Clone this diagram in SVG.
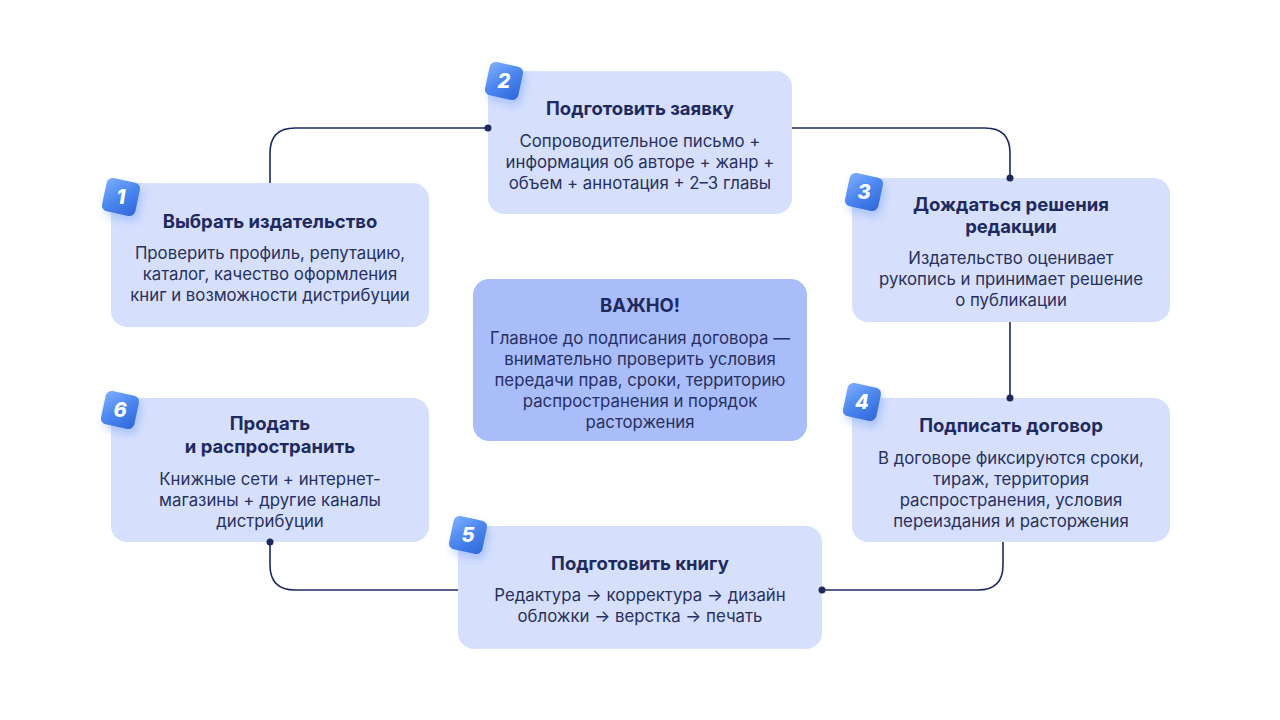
<svg xmlns="http://www.w3.org/2000/svg" width="1280" height="720" viewBox="0 0 1280 720">
<defs>
<linearGradient id="bg" x1="0" y1="0" x2="1" y2="1"><stop offset="0" stop-color="#7fb0ff"/><stop offset="0.5" stop-color="#4a86f0"/><stop offset="1" stop-color="#2f66d8"/></linearGradient>
<filter id="sh" x="-50%" y="-50%" width="200%" height="200%"><feGaussianBlur stdDeviation="4"/></filter>
<style>
.box{fill:#d6e0fd}
.imp{fill:#aabdfb}
.t{font-family:Inter,"Noto Sans",sans-serif;font-weight:700;font-size:18.5px;fill:#1e2a5e;text-anchor:middle}
.b{font-family:Inter,"Noto Sans",sans-serif;font-size:16.8px;fill:#27305e;text-anchor:middle}
.n{font-family:Inter,"Noto Sans",sans-serif;font-weight:800;font-style:italic;font-size:20px;fill:#fff;text-anchor:middle}
.c{fill:none;stroke:#1e2a5e;stroke-width:1.6}
.d{fill:#1e2a5e}
</style>
<g id="badge"><rect x="-17" y="-17" width="34" height="34" rx="6" fill="#5b8ff5" opacity="0.35" filter="url(#sh)" transform="translate(4,5)"/><rect x="-17" y="-17" width="34" height="34" rx="6" fill="url(#bg)"/></g>
</defs>
<rect width="1280" height="720" fill="#fff"/>
<g id="n1"><rect class="box" x="111" y="183" width="318" height="144" rx="16"/>
<text class="t" x="270" y="228">Выбрать издательство</text>
<text class="b" x="270" y="259">Проверить профиль, репутацию,</text>
<text class="b" x="270" y="280">каталог, качество оформления</text>
<text class="b" x="270" y="301">книг и возможности дистрибуции</text>
<use href="#badge" transform="translate(121,197) rotate(12)"/><text class="n" x="121" y="204">1</text></g>
<g id="n2"><rect class="box" x="488" y="71" width="304" height="143" rx="16"/>
<text class="t" x="640" y="115">Подготовить заявку</text>
<text class="b" x="640" y="147">Сопроводительное письмо +</text>
<text class="b" x="640" y="168">информация об авторе + жанр +</text>
<text class="b" x="640" y="189">объем + аннотация + 2–3 главы</text>
<use href="#badge" transform="translate(504,81) rotate(12)"/><text class="n" x="504" y="88">2</text></g>
<g id="n3"><rect class="box" x="852" y="178" width="318" height="144" rx="16"/>
<text class="t" x="1011" y="211">Дождаться решения</text>
<text class="t" x="1011" y="233">редакции</text>
<text class="b" x="1011" y="264">Издательство оценивает</text>
<text class="b" x="1011" y="285">рукопись и принимает решение</text>
<text class="b" x="1011" y="306">о публикации</text>
<use href="#badge" transform="translate(864,192) rotate(12)"/><text class="n" x="864" y="199">3</text></g>
<g id="imp"><rect class="imp" x="473" y="279" width="334" height="162" rx="16"/>
<text class="t" x="640" y="312">ВАЖНО!</text>
<text class="b" x="640" y="344">Главное до подписания договора —</text>
<text class="b" x="640" y="365">внимательно проверить условия</text>
<text class="b" x="640" y="386">передачи прав, сроки, территорию</text>
<text class="b" x="640" y="407">распространения и порядок</text>
<text class="b" x="640" y="428">расторжения</text></g>
<g id="n4"><rect class="box" x="852" y="398" width="318" height="144" rx="16"/>
<text class="t" x="1011" y="432">Подписать договор</text>
<text class="b" x="1011" y="464">В договоре фиксируются сроки,</text>
<text class="b" x="1011" y="485">тираж, территория</text>
<text class="b" x="1011" y="506">распространения, условия</text>
<text class="b" x="1011" y="527">переиздания и расторжения</text>
<use href="#badge" transform="translate(862,402) rotate(12)"/><text class="n" x="862" y="409">4</text></g>
<g id="n6"><rect class="box" x="111" y="398" width="318" height="144" rx="16"/>
<text class="t" x="270" y="430">Продать</text>
<text class="t" x="270" y="453">и распространить</text>
<text class="b" x="270" y="485">Книжные сети + интернет-</text>
<text class="b" x="270" y="506">магазины + другие каналы</text>
<text class="b" x="270" y="527">дистрибуции</text>
<use href="#badge" transform="translate(120,410) rotate(12)"/><text class="n" x="120" y="417">6</text></g>
<g id="n5"><rect class="box" x="458" y="526" width="364" height="123" rx="16"/>
<text class="t" x="640" y="570">Подготовить книгу</text>
<text class="b" x="640" y="601">Редактура → корректура → дизайн</text>
<text class="b" x="640" y="622">обложки → верстка → печать</text>
<use href="#badge" transform="translate(468,535) rotate(12)"/><text class="n" x="468" y="542">5</text></g>
<g id="connectors">
<path class="c" d="M270 183 V153 Q270 128 295 128 H488"/>
<path class="c" d="M792 128 H985 Q1010 128 1010 153 V178"/>
<path class="c" d="M1010 322 V398"/>
<path class="c" d="M1003 542 V565 Q1003 590 978 590 H822"/>
<path class="c" d="M458 590 H295 Q270 590 270 565 V542"/>
<circle class="d" cx="488" cy="128" r="3.5"/>
<circle class="d" cx="1010" cy="178" r="3.5"/>
<circle class="d" cx="1010" cy="398" r="3.5"/>
<circle class="d" cx="822" cy="590" r="3.5"/>
<circle class="d" cx="270" cy="542" r="3.5"/>
</g>
</svg>
